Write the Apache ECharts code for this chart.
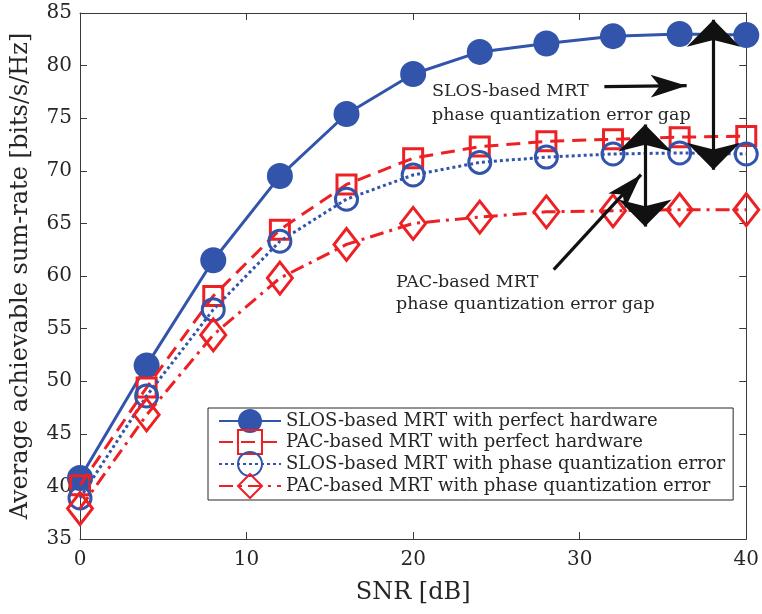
<!DOCTYPE html>
<html><head><meta charset="utf-8">
<script src="https://cdn.jsdelivr.net/npm/echarts@6/dist/echarts.min.js"></script>
<style>html,body{margin:0;padding:0;background:#fff}#c{width:762px;height:614px}</style>
</head><body><div id="c"></div>
<script>
// ---- data ----
const snrDb = [0, 4, 8, 12, 16, 20, 24, 28, 32, 36, 40];
const slosPerfect = [40.8, 51.5, 61.5, 69.5, 75.4, 79.2, 81.3, 82.1, 82.8, 83.0, 82.9];
const pacPerfect  = [40.1, 49.4, 58.1, 64.4, 68.7, 71.2, 72.3, 72.8, 73.0, 73.2, 73.3];
const slosQuant   = [38.9, 48.6, 56.8, 63.3, 67.3, 69.6, 70.8, 71.3, 71.6, 71.7, 71.6];
const pacQuant    = [37.9, 46.8, 54.4, 59.8, 63.0, 65.0, 65.6, 66.1, 66.2, 66.3, 66.3];
const seriesNames = [
  'SLOS-based MRT with perfect hardware',
  'PAC-based MRT with perfect hardware',
  'SLOS-based MRT with phase quantization error',
  'PAC-based MRT with phase quantization error'
];
const xTicks = {min: 0, max: 40, interval: 10};
const yTicks = {min: 35, max: 85, interval: 5};

// ---- styles ----
const BLUE = '#3254AA', RED = '#ED2024', AX = '#3a3a3a', TXT = '#262626';
const FONT = 'DejaVu Serif';
const pair = arr => snrDb.map((x, i) => [x, arr[i]]);

const chart = echarts.init(document.getElementById('c'), null, {renderer: 'canvas'});
const axisCommon = {
  axisLine: {show: true, onZero: false, lineStyle: {color: AX, width: 1}},
  axisTick: {show: true, inside: true, length: 7, lineStyle: {color: AX}},
  splitLine: {show: false}
};
const arrowHead = {symbol: 'arrow', symbolSize: [17, 36]};
const dblHead = {symbol: 'arrow', symbolSize: [40, 27]};

chart.setOption({
  animation: false,
  backgroundColor: '#fff',
  grid: {left: 80, right: 11, top: 13, bottom: 75, containLabel: false},
  xAxis: [
    Object.assign({type: 'value', position: 'bottom', min: xTicks.min, max: xTicks.max, interval: xTicks.interval,
      name: 'SNR [dB]', nameLocation: 'middle', nameGap: 42,
      nameTextStyle: {fontFamily: FONT, fontSize: 24, color: TXT},
      axisLabel: {fontFamily: FONT, fontSize: 20, color: TXT, margin: 11}}, axisCommon),
    Object.assign({type: 'value', position: 'top', min: xTicks.min, max: xTicks.max, interval: xTicks.interval,
      axisLabel: {show: false}}, axisCommon)
  ],
  yAxis: [
    Object.assign({type: 'value', position: 'left', min: yTicks.min, max: yTicks.max, interval: yTicks.interval,
      name: 'Average achievable sum-rate [bits/s/Hz]', nameLocation: 'middle', nameGap: 47,
      nameTextStyle: {fontFamily: FONT, fontSize: 24, color: TXT},
      axisLabel: {fontFamily: FONT, fontSize: 20, color: TXT, margin: 8}}, axisCommon),
    Object.assign({type: 'value', position: 'right', min: yTicks.min, max: yTicks.max, interval: yTicks.interval,
      axisLabel: {show: false}}, axisCommon)
  ],
  legend: {
    data: seriesNames,
    orient: 'vertical', left: 208, top: 408,
    itemWidth: 62, itemHeight: 30, itemGap: -4, itemTextGap: 6,
    padding: [1, 8, 1, 10],
    backgroundColor: '#fff', borderColor: TXT, borderWidth: 1, borderRadius: 0,
    textStyle: {fontFamily: FONT, fontSize: 18, color: TXT}
  },
  series: [
    {name: seriesNames[0], type: 'line', data: pair(slosPerfect), symbol: 'circle', symbolSize: 26,
     itemStyle: {color: BLUE}, lineStyle: {color: BLUE, width: 3, type: 'solid'}, z: 2},
    {name: seriesNames[1], type: 'line', data: pair(pacPerfect), symbol: 'rect', symbolSize: 19,
     itemStyle: {color: 'rgba(255,255,255,0)', borderColor: RED, borderWidth: 3},
     lineStyle: {color: RED, width: 3, type: [14, 8]}, z: 3},
    {name: seriesNames[2], type: 'line', data: pair(slosQuant), symbol: 'circle', symbolSize: 22,
     itemStyle: {color: 'rgba(255,255,255,0)', borderColor: BLUE, borderWidth: 3},
     lineStyle: {color: BLUE, width: 3, type: [3, 3]}, z: 4},
    {name: seriesNames[3], type: 'line', data: pair(pacQuant), symbol: 'diamond', symbolSize: [25, 32],
     itemStyle: {color: 'rgba(255,255,255,0)', borderColor: RED, borderWidth: 3},
     lineStyle: {color: RED, width: 3, type: [14, 6, 3, 6]}, z: 5,
     markLine: {
       silent: true, z: 10, animation: false,
       label: {show: false},
       lineStyle: {color: '#111', width: 3.2, type: 'solid'},
       emphasis: {disabled: true},
       data: [
         [Object.assign({coord: [31.48, 78.0]}, {symbol: 'none'}), Object.assign({coord: [36.42, 78.09]}, arrowHead)],
         [Object.assign({coord: [38.03, 84.37]}, dblHead), Object.assign({coord: [38.03, 70.1]}, dblHead)],
         [Object.assign({coord: [33.92, 74.4]}, dblHead), Object.assign({coord: [33.92, 64.7]}, dblHead)],
         [Object.assign({coord: [28.44, 60.6]}, {symbol: 'none'}), Object.assign({coord: [33.68, 69.63]}, arrowHead)]
       ]
     }}
  ],
  graphic: [
    {type: 'text', z: 20, style: {x: 432, y: 91, text: 'SLOS-based MRT', font: '17.5px "DejaVu Serif"', fill: TXT, verticalAlign: 'middle'}},
    {type: 'text', z: 20, style: {x: 432, y: 115, text: 'phase quantization error gap', font: '17.5px "DejaVu Serif"', fill: TXT, verticalAlign: 'middle'}},
    {type: 'text', z: 20, style: {x: 396, y: 282, text: 'PAC-based MRT', font: '17.5px "DejaVu Serif"', fill: TXT, verticalAlign: 'middle'}},
    {type: 'text', z: 20, style: {x: 396, y: 304, text: 'phase quantization error gap', font: '17.5px "DejaVu Serif"', fill: TXT, verticalAlign: 'middle'}}
  ]
});
</script></body></html>
